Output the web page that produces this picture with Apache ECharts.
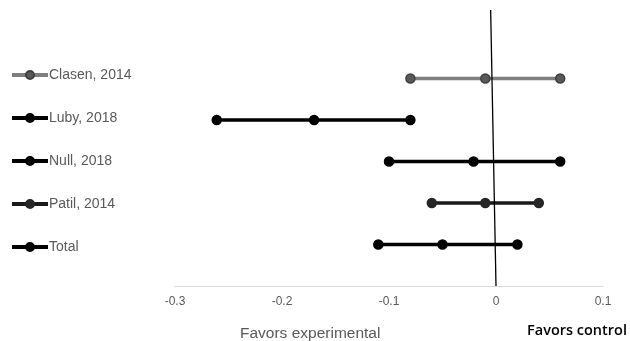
<!DOCTYPE html>
<html><head><meta charset="utf-8">
<script src="https://cdn.jsdelivr.net/npm/echarts@6/dist/echarts.min.js"></script>
<style>html,body{margin:0;padding:0;background:#fff}#c{width:630px;height:341px}</style>
</head><body><div id="c"></div>
<script>
var studies = ['Clasen, 2014', 'Luby, 2018', 'Null, 2018', 'Patil, 2014', 'Total'];
var rowPos = [5, 4, 3, 2, 1];
var lower = [-0.08, -0.261, -0.10, -0.06, -0.11];
var estimate = [-0.01, -0.17, -0.021, -0.01, -0.05];
var upper = [0.06, -0.08, 0.06, 0.04, 0.02];
var xTicks = [-0.3, -0.2, -0.1, 0, 0.1];
var lineColors = ['#7f7f7f', '#000000', '#000000', '#1a1a1a', '#000000'];
var markerFill = ['#595959', '#000000', '#000000', '#262626', '#000000'];

var series = studies.map(function (name, i) {
  return {
    name: name, type: 'line',
    data: [[lower[i], rowPos[i]], [estimate[i], rowPos[i]], [upper[i], rowPos[i]]],
    symbol: 'circle', symbolSize: 9,
    lineStyle: { color: lineColors[i], width: 3.5 },
    itemStyle: { color: markerFill[i], borderColor: i === 0 ? '#404040' : markerFill[i], borderWidth: 1.5 },
    z: 3
  };
});
series.push({
  name: 'ref', type: 'line', data: [[-0.005, 6.65], [0, 0]],
  symbol: 'none', lineStyle: { color: '#000', width: 1.3 }, z: 4, silent: true
});

var chart = echarts.init(document.getElementById('c'));
chart.setOption({
  animation: false,
  grid: { left: 175, right: 27, top: 10, bottom: 55 },
  xAxis: {
    type: 'value', min: -0.3, max: 0.1, interval: 0.1,
    axisLine: { lineStyle: { color: '#d9d9d9', width: 1 } },
    axisTick: { show: false }, splitLine: { show: false },
    axisLabel: { color: '#595959', fontSize: 12, margin: 10, fontFamily: 'Liberation Sans',
      formatter: function (v) { var r = Math.round(v * 10) / 10; return xTicks.indexOf(r) >= 0 ? String(r) : ''; } }
  },
  yAxis: { type: 'value', min: 0, max: 6.65, show: false },
  legend: {
    data: studies, orient: 'vertical', left: 10, top: 68, padding: 0,
    itemWidth: 36, itemHeight: 10, itemGap: 29,
    lineStyle: { width: 4 },
    textStyle: { color: '#595959', fontSize: 14, fontFamily: 'Liberation Sans', padding: [0, 0, 0, -4] }
  },
  graphic: [
    { type: 'text', left: 240, top: 326, style: { text: 'Favors experimental', fill: '#595959', font: '15.5px "Liberation Sans"' } },
    { type: 'text', left: 527, top: 323, style: { text: 'Favors control', fill: '#000', font: '600 14.5px "Open Sans"' } }
  ],
  series: series
});
</script></body></html>
